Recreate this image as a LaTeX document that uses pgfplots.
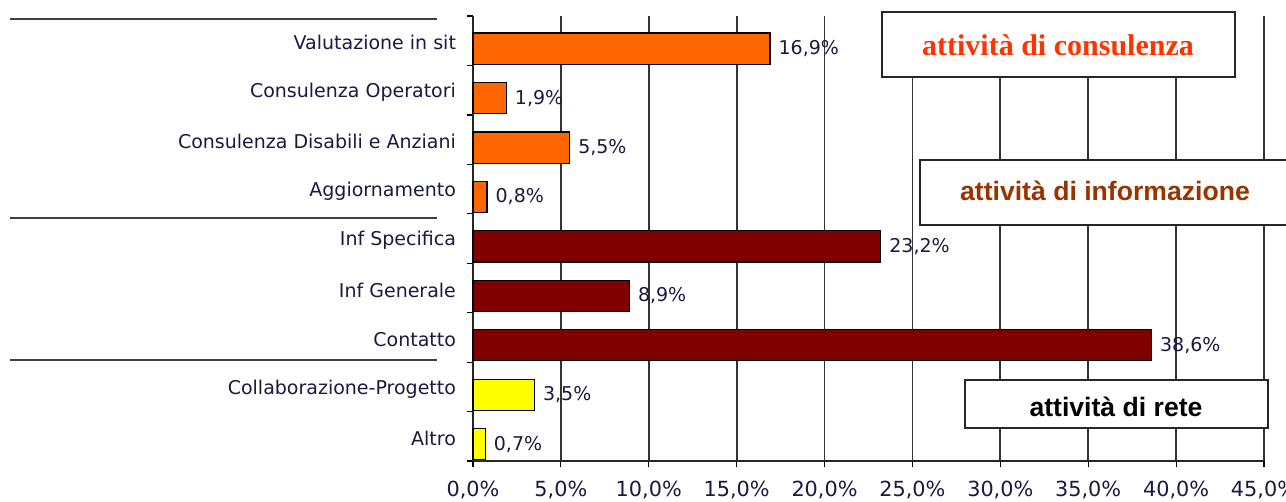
\documentclass[border=0pt]{standalone}
\usepackage{pgfplots}
\pgfplotsset{compat=1.18}
\usepackage{fontspec}
\setmainfont{DejaVu Sans}
\newfontfamily\arialfont{Liberation Sans}
\newfontfamily\timesfont{Liberation Serif}

\definecolor{barorange}{HTML}{FF6600}
\definecolor{barred}{HTML}{800000}
\definecolor{baryellow}{HTML}{FFFF00}
\definecolor{txtnavy}{HTML}{1A1A40}
\definecolor{consred}{HTML}{FF3300}
\definecolor{infbrown}{HTML}{993300}

\newcommand{\lbl}{\fontsize{9.5}{11}\selectfont}
\newcommand{\tlbl}{\fontsize{10.4}{12}\selectfont}

\begin{document}
\begin{tikzpicture}
\begin{axis}[
at={(0,0)}, anchor=south west,
width=395.5pt, height=222.5pt, scale only axis,
xmin=0, xmax=45, ymin=-0.5, ymax=8.5,
y dir=reverse,
axis x line*=bottom, axis y line*=left,
axis line style={line width=0.9pt, black!85},
xtick={0,5,...,45},
xticklabel={\pgfmathprintnumber[fixed,fixed zerofill,precision=1,use comma]{\tick}\%},
/pgf/number format/assume math mode=true,
xticklabel style={font=\tlbl, text=txtnavy, yshift=-3.5pt},
ytick={0,...,8},
yticklabels={Valutazione in sit,Consulenza Operatori,Consulenza Disabili e Anziani,Aggiornamento,Inf Specifica,Inf Generale,Contatto,Collaborazione-Progetto,Altro},
yticklabel style={font=\lbl, text=txtnavy, xshift=-2pt, yshift=-1pt},
major y tick style={draw=none},
minor ytick={-0.5,0.5,...,8.5},
minor y tick style={line width=0.6pt, black},
tick align=outside,
major tick length=3pt, minor tick length=3pt,
major x tick style={line width=0.6pt, black},
xmajorgrids, grid style={line width=0.9pt, black!80},
clip=false,
nodes near coords={\pgfmathprintnumber[fixed,fixed zerofill,precision=1,use comma]{\pgfplotspointmeta}\%},
every node near coord/.append style={font=\lbl, text=txtnavy, anchor=west, inner sep=4pt},
point meta=x,
]
\addplot[xbar, bar shift=0pt, bar width=0.63, draw=black, line width=0.6pt, fill=barorange]
  coordinates {(16.9,0.16) (1.9,1.16) (5.5,2.16) (0.8,3.16)};
\addplot[xbar, bar shift=0pt, bar width=0.63, draw=black, line width=0.6pt, fill=barred]
  coordinates {(23.2,4.16) (8.9,5.16) (38.6,6.16)};
\addplot[xbar, bar shift=0pt, bar width=0.63, draw=black, line width=0.6pt, fill=baryellow]
  coordinates {(3.5,7.16) (0.7,8.16)};
\end{axis}

% group separators on the left
\draw[line width=0.8pt, black!75] (-231.5pt,221pt) -- (-18pt,221pt);
\draw[line width=0.8pt, black!75] (-231.5pt,121.5pt) -- (-18pt,121.5pt);
\draw[line width=0.8pt, black!75] (-231.5pt,50.5pt) -- (-18pt,50.5pt);

% group boxes
\draw[line width=0.9pt, black!85, fill=white] (204.5pt,192pt) rectangle (381pt,224.5pt);
\node[text=consred, font=\timesfont\bfseries\fontsize{15}{17}\selectfont] at (292.5pt,208pt) {attività di consulenza};
\draw[line width=0.9pt, black!85, fill=white] (223.5pt,118pt) rectangle (410pt,150.5pt);
\node[text=infbrown, font=\arialfont\bfseries\fontsize{13.3}{15}\selectfont] at (316pt,135pt) {attività di informazione};
\draw[line width=0.9pt, black!85, fill=white] (246pt,16.5pt) rectangle (397.5pt,40.5pt);
\node[text=black, font=\arialfont\bfseries\fontsize{13.3}{15}\selectfont] at (321.5pt,27pt) {attività di rete};

\pgfresetboundingbox
\useasboundingbox (-236.5pt,-20.5pt) rectangle (406.5pt,230.5pt);
\end{tikzpicture}
\end{document}
